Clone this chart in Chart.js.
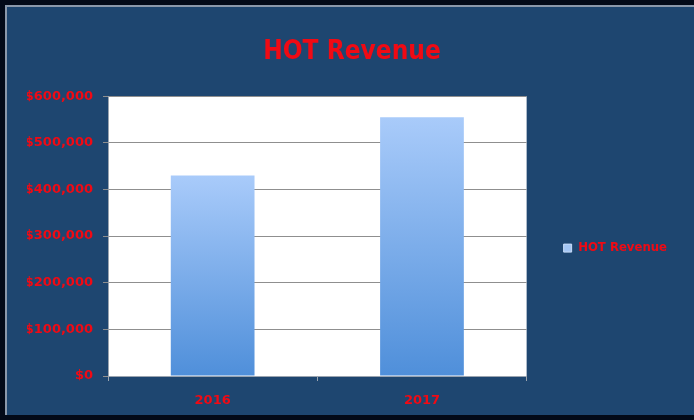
<!DOCTYPE html>
<html>
<head>
<meta charset="utf-8">
<script src="https://cdn.jsdelivr.net/npm/chart.js@4"></script>
<style>
  html, body { margin: 0; padding: 0; background: #030a18; }
  #wrap { width: 694px; height: 420px; }
</style>
</head>
<body>
<div id="wrap"><canvas id="revChart" width="694" height="420"></canvas></div>
<script>
// HOT revenue by year
const years = ["2016", "2017"];
const revenue = [430000, 555000];
const seriesName = "HOT Revenue";

const red = "#f00a14";
const condensed = "'DejaVu Sans Condensed', 'DejaVu Sans', sans-serif";
const tickFont = { family: "DejaVu Sans", weight: "bold", size: 13 };

// dark frame, blue panel and white plot background
const panelBg = {
  id: "panelBg",
  beforeDraw(chart) {
    const ctx = chart.ctx;
    const a = chart.chartArea;
    ctx.save();
    ctx.fillStyle = "#030a18";
    ctx.fillRect(0, 0, chart.width, chart.height);
    ctx.fillStyle = "#1e4670";
    ctx.fillRect(5, 6, chart.width - 5, 409);
    ctx.strokeStyle = "#8b98aa";
    ctx.lineWidth = 2;
    ctx.beginPath();
    ctx.moveTo(6, 415);
    ctx.lineTo(6, 6);
    ctx.lineTo(chart.width, 6);
    ctx.stroke();
    ctx.fillStyle = "#ffffff";
    ctx.fillRect(a.left, a.top, a.right - a.left, a.bottom - a.top);
    ctx.restore();
  }
};

// each bar gets its own light-to-dark vertical gradient
function barGradient(context) {
  const chart = context.chart;
  if (!chart.chartArea) return "#8ab4ec";
  const yScale = chart.scales.y;
  const top = yScale.getPixelForValue(context.raw);
  const g = chart.ctx.createLinearGradient(0, top, 0, yScale.getPixelForValue(0));
  g.addColorStop(0, "#a9cbfa");
  g.addColorStop(1, "#4f8fda");
  return g;
}

new Chart(document.getElementById("revChart"), {
  type: "bar",
  data: {
    labels: years,
    datasets: [{
      label: seriesName,
      data: revenue,
      backgroundColor: barGradient,
      borderWidth: 0,
      barPercentage: 0.4,
      categoryPercentage: 1.0
    }]
  },
  plugins: [panelBg],
  options: {
    responsive: false,
    animation: false,
    layout: { padding: { top: 37, left: 27, right: 17, bottom: 0 } },
    plugins: {
      title: {
        display: true,
        text: "HOT Revenue",
        color: red,
        font: { family: condensed, weight: "bold", size: 26 },
        padding: { top: 0, bottom: 28 }
      },
      legend: {
        position: "right",
        title: { display: true, text: "", font: { size: 1 }, padding: { top: 38, bottom: 0 } },
        labels: {
          color: red,
          font: { family: condensed, weight: "bold", size: 13 },
          boxWidth: 8,
          boxHeight: 8,
          padding: 37,
          generateLabels() {
            return [{
              text: seriesName,
              fillStyle: "#a4c6f4",
              strokeStyle: "#c8dcf8",
              lineWidth: 1,
              fontColor: red,
              datasetIndex: 0
            }];
          }
        }
      },
      tooltip: { enabled: false }
    },
    scales: {
      x: {
        offset: true,
        afterFit(scale) { scale.height = 44; },
        grid: {
          offset: true,
          drawOnChartArea: false,
          tickLength: 5,
          color: "#9aa4b0"
        },
        border: { color: "#9aa4b0", width: 1 },
        ticks: { color: red, font: tickFont, padding: 12 }
      },
      y: {
        min: 0,
        max: 600000,
        afterFit(scale) { scale.width = 81; },
        grid: { color: "#8f8f8f", tickLength: 5 },
        border: { color: "#9aa4b0", width: 1 },
        ticks: {
          stepSize: 100000,
          color: red,
          font: tickFont,
          padding: 10,
          callback: v => "$" + v.toLocaleString("en-US")
        }
      }
    }
  }
});
</script>
</body>
</html>
